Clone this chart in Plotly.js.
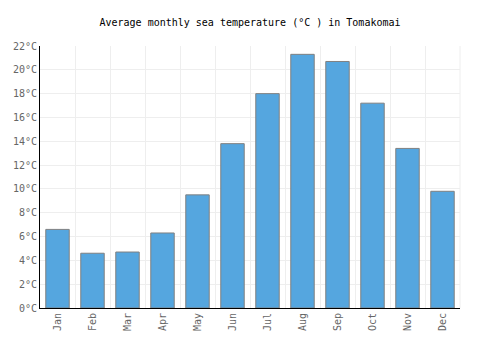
<!DOCTYPE html>
<html>
<head>
<meta charset="utf-8">
<script src="https://cdn.plot.ly/plotly-3.0.1.min.js"></script>
<style>html,body{margin:0;padding:0;background:#fff}</style>
</head>
<body>
<div id="chart" style="width:500px;height:350px"></div>
<script>
var months = ["Jan","Feb","Mar","Apr","May","Jun","Jul","Aug","Sep","Oct","Nov","Dec"];
var temps = [6.6, 4.6, 4.7, 6.3, 9.5, 13.8, 18.0, 21.3, 20.7, 17.2, 13.4, 9.8];
var yTicks = [0,2,4,6,8,10,12,14,16,18,20,22];
var yLabels = yTicks.map(function(v){return v + "°C";});

var font = "DejaVu Sans Mono, monospace";
var data = [{
  type: "bar",
  x: months,
  y: temps,
  width: 0.67,
  marker: {color: "#55a6df", line: {color: "#808080", width: 1}},
  hoverinfo: "x+y"
}, {
  type: "scatter", x: [0.5], y: [0], xaxis: "x2", mode: "none", showlegend: false, hoverinfo: "skip"
}];

var layout = {
  width: 500, height: 350,
  margin: {l: 40, r: 40, t: 46, b: 42},
  paper_bgcolor: "#fff", plot_bgcolor: "#fff",
  showlegend: false,
  title: {text: "Average monthly sea temperature (°C ) in Tomakomai", font: {family: font, size: 10, color: "#000"}, x: 0.5, y: 0.935, xanchor: "center", yanchor: "middle"},
  xaxis: {
    type: "category", range: [-0.5, 11.5], showgrid: false,
    showline: true, linecolor: "#000", linewidth: 1,
    ticks: "", tickangle: -90, tickfont: {family: font, size: 10, color: "#666"},
    fixedrange: true, zeroline: false
  },
  xaxis2: {
    overlaying: "x", range: [-0.5, 11.5], tick0: 0.5, dtick: 1, showgrid: true,
    gridcolor: "#eeeeee", gridwidth: 1, showticklabels: false, ticks: "", zeroline: false, fixedrange: true
  },
  yaxis: {
    range: [0, 22], tickvals: yTicks, ticktext: yLabels, showgrid: true,
    gridcolor: "#eeeeee", gridwidth: 1,
    showline: true, linecolor: "#000", linewidth: 1,
    ticks: "", tickfont: {family: font, size: 10, color: "#666"},
    zeroline: false, fixedrange: true
  },
  shapes: [{type: "line", xref: "paper", yref: "paper", x0: 1, x1: 1, y0: 0, y1: 1, line: {color: "#eeeeee", width: 1}}],
  bargap: 0.33
};
Plotly.newPlot("chart", data, layout, {displayModeBar: false, staticPlot: true});
</script>
</body>
</html>
